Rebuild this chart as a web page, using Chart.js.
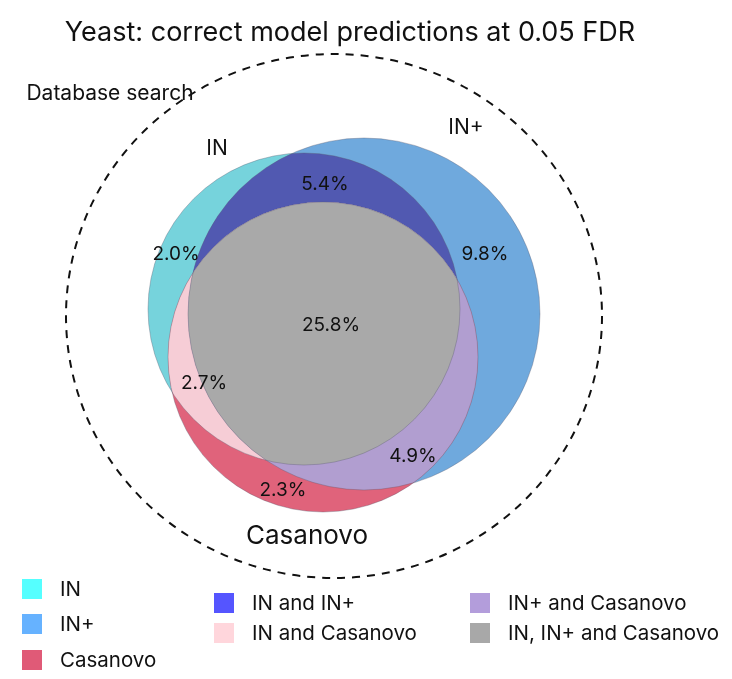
<!DOCTYPE html>
<html>
<head>
<meta charset="utf-8">
<script src="https://cdn.jsdelivr.net/npm/chart.js@4"></script>
<style>
  body { margin: 0; background: #fff; font-family: Inter, sans-serif; }
  #wrap { position: relative; width: 732px; height: 679px; overflow: hidden; }
  #venn { position: absolute; left: 0; top: 0; }
  .lg { position: absolute; font-size: 20.5px; color: #111; white-space: nowrap; line-height: 20px; }
  .lg span { position: absolute; left: -38px; top: 0; width: 20px; height: 20px; }
</style>
</head>
<body>
<div id="wrap">
  <canvas id="venn" width="732" height="679"></canvas>
</div>
<script>
// sets: IN, IN+, Casanovo (centre x, centre y, radius in picture units)
const setNames = ["IN", "IN+", "Casanovo"];
const setX = [304, 364, 323];
const setY = [309, 314, 357];
const setR = [156, 176, 155];
const setColours = ["#76d3dc", "#6fa9dd", "#e0637b"];

// region labels (share of correct predictions)
const regionValues = ["5.4%", "2.0%", "9.8%", "25.8%", "2.7%", "4.9%", "2.3%"];
const regionX = [325, 176, 485, 331, 204, 413, 283];
const regionY = [184, 254, 254, 325, 383, 456, 490];

const legendNames = ["IN", "IN+", "Casanovo", "IN and IN+", "IN and Casanovo", "IN+ and Casanovo", "IN, IN+ and Casanovo"];
const legendColours = ["#55ffff", "#66b2ff", "#e05a77", "#5555ff", "#ffd6dc", "#b39ddb", "#a8a8a8"];
const legendX = [60, 60, 60, 252, 252, 508, 508];
const legendY = [579, 614, 650, 593, 623, 593, 623];

legendNames.forEach((name, i) => {
  const d = document.createElement("div");
  d.className = "lg";
  d.style.left = legendX[i] + "px";
  d.style.top = legendY[i] + "px";
  d.innerHTML = `<span style="background:${legendColours[i]}"></span>${name}`;
  document.getElementById("wrap").appendChild(d);
});

const vennPlugin = {
  id: "venn",
  beforeDatasetsDraw(chart) {
    const ctx = chart.ctx;
    const xs = chart.scales.x;
    const ys = chart.scales.y;
    const px = (v) => xs.getPixelForValue(v);
    const py = (v) => ys.getPixelForValue(v);
    const rad = (r) => Math.abs(xs.getPixelForValue(r) - xs.getPixelForValue(0));
    const path = (i) => {
      ctx.beginPath();
      ctx.arc(px(setX[i]), py(setY[i]), rad(setR[i]), 0, Math.PI * 2);
    };
    const fill = (i, colour, clips) => {
      ctx.save();
      clips.forEach((c) => { path(c); ctx.clip(); });
      path(i);
      ctx.fillStyle = colour;
      ctx.fill();
      ctx.restore();
    };

    // outer database search circle
    ctx.save();
    ctx.setLineDash([8, 7]);
    ctx.lineWidth = 2;
    ctx.strokeStyle = "#111";
    ctx.beginPath();
    ctx.ellipse(px(334), py(316), rad(268), rad(262), 0, 0, Math.PI * 2);
    ctx.stroke();
    ctx.restore();

    fill(0, setColours[0], []);
    fill(1, setColours[1], []);
    fill(2, setColours[2], []);
    fill(1, "#5159b1", [0]);
    fill(2, "#f6cdd6", [0]);
    fill(2, "#b19ed0", [1]);
    fill(2, "#a9a9a9", [0, 1]);

    ctx.save();
    ctx.lineWidth = 1;
    ctx.strokeStyle = "rgba(90,90,110,0.35)";
    [0, 1, 2].forEach((i) => { path(i); ctx.stroke(); });
    ctx.restore();

    ctx.save();
    ctx.fillStyle = "#111";
    ctx.textAlign = "center";
    ctx.textBaseline = "middle";
    ctx.font = "27px Inter, sans-serif";
    ctx.fillText("Yeast: correct model predictions at 0.05 FDR", px(350), py(33));
    ctx.font = "21px Inter, sans-serif";
    ctx.fillText("Database search", px(110), py(94));
    ctx.fillText(setNames[0], px(217), py(149));
    ctx.fillText(setNames[1], px(466), py(128));
    ctx.font = "26px Inter, sans-serif";
    ctx.fillText(setNames[2], px(307), py(536));
    ctx.font = "19px Inter, sans-serif";
    regionValues.forEach((v, i) => ctx.fillText(v, px(regionX[i]), py(regionY[i])));
    ctx.restore();
  },
};

new Chart(document.getElementById("venn"), {
  type: "scatter",
  data: {
    datasets: [
      {
        label: "set centres",
        data: setX.map((x, i) => ({ x: x, y: setY[i] })),
        pointRadius: 0,
      },
    ],
  },
  options: {
    responsive: false,
    animation: false,
    layout: { padding: 0 },
    plugins: { legend: { display: false }, tooltip: { enabled: false } },
    scales: {
      x: { type: "linear", min: 0, max: 732, display: false },
      y: { type: "linear", min: 0, max: 679, reverse: true, display: false },
    },
  },
  plugins: [vennPlugin],
});
</script>
</body>
</html>
